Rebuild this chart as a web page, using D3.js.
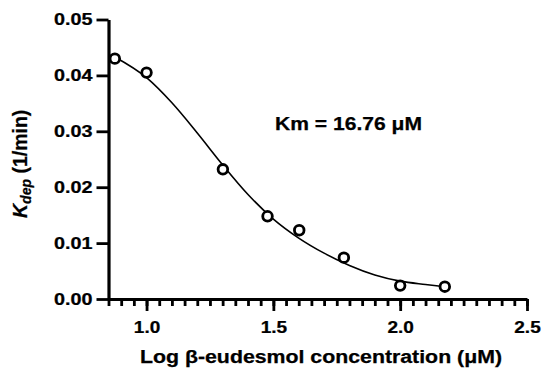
<!DOCTYPE html>
<html>
<head>
<meta charset="utf-8">
<script src="https://cdn.jsdelivr.net/npm/d3@7"></script>
<style>
  body { margin: 0; background: #fff; }
  svg text { font-family: "Liberation Sans", Arial, sans-serif; font-weight: bold; fill: #000; stroke: #000; stroke-width: 0.25px; }
</style>
</head>
<body>
<svg id="chart" width="544" height="370"></svg>
<script>
// measured points (log concentration, Kdep)
var logConc = [0.875, 1.0, 1.301, 1.477, 1.602, 1.778, 2.0, 2.176]
var kdep = [0.0430, 0.0405, 0.0232, 0.0148, 0.0123, 0.0074, 0.0024, 0.0022]

// fitted curve
var fitX = [0.875, 1.0, 1.1, 1.2, 1.3, 1.4, 1.5, 1.6, 1.7, 1.8, 1.9, 2.0, 2.1, 2.176]
var fitY = [0.0433, 0.0396, 0.0351, 0.0297, 0.0240, 0.0187, 0.0143, 0.0109, 0.0082, 0.0060, 0.0043, 0.0032, 0.0026, 0.0022]

var xTicks = [1.0, 1.5, 2.0, 2.5]
var yTicks = [0, 0.01, 0.02, 0.03, 0.04, 0.05]

var svg = d3.select('#chart')
var stretch = 1.2

var x = d3.scaleLinear().domain([0.85, 2.5]).range([108.5, 527])
var y = d3.scaleLinear().domain([0, 0.05]).range([299, 19.5])

// y axis
var gy = svg.append('g')
  .attr('transform', 'translate(108.5,0)')
  .call(d3.axisLeft(y).tickValues(yTicks).tickFormat(d3.format('.2f')).tickSize(12).tickSizeOuter(0))
gy.select('.domain').style('stroke-width', '3.2px').style('stroke', '#000')
gy.selectAll('.tick line').style('stroke-width', '2.8px').style('stroke', '#000')
gy.selectAll('.tick text')
  .attr('x', 0)
  .attr('transform', 'translate(-16,0) scale(' + stretch + ',1)')
  .style('font-size', '16.5px')

// x axis, minor ticks first
var minor = d3.range(0.85, 2.5001, 0.05)
var gxm = svg.append('g')
  .attr('transform', 'translate(0,299)')
  .call(d3.axisBottom(x).tickValues(minor).tickSize(7).tickFormat(''))
gxm.select('.domain').remove()
gxm.selectAll('.tick line').style('stroke-width', '2.8px').style('stroke', '#000')

var gx = svg.append('g')
  .attr('transform', 'translate(0,299)')
  .call(d3.axisBottom(x).tickValues(xTicks).tickFormat(d3.format('.1f')).tickSize(12).tickSizeOuter(0).tickPadding(10))
gx.select('.domain').style('stroke-width', '3.2px').style('stroke', '#000')
gx.selectAll('.tick line').style('stroke-width', '2.8px').style('stroke', '#000')
gx.selectAll('.tick text')
  .attr('transform', 'scale(1.12,1)')
  .style('font-size', '17px')

// fitted curve
var line = d3.line()
  .curve(d3.curveMonotoneX)
  .x(function (d, i) { return x(fitX[i]) })
  .y(function (d) { return y(d) })

svg.append('path')
  .datum(fitY)
  .attr('d', line)
  .attr('fill', 'none')
  .attr('stroke', '#000')
  .attr('stroke-width', 1.6)

// points
svg.append('g').selectAll('circle')
  .data(kdep)
  .enter().append('circle')
  .attr('cx', function (d, i) { return x(logConc[i]) })
  .attr('cy', function (d) { return y(d) })
  .attr('r', 4.8)
  .attr('fill', '#fff')
  .attr('stroke', '#000')
  .attr('stroke-width', 2.8)

// annotation
svg.append('text')
  .attr('x', 275)
  .attr('y', 129.5)
  .attr('textLength', 147)
  .attr('lengthAdjust', 'spacingAndGlyphs')
  .style('font-size', '17.5px')
  .text('Km = 16.76 μM')

// x title
svg.append('text')
  .attr('x', 140)
  .attr('y', 363)
  .attr('textLength', 362)
  .attr('lengthAdjust', 'spacingAndGlyphs')
  .style('font-size', '17.5px')
  .text('Log β-eudesmol concentration (μM)')

// y title
var yt = svg.append('text')
  .attr('transform', 'translate(27,218) rotate(-90)')
  .attr('x', 0)
  .attr('y', 0)
  .style('font-size', '19.5px')
yt.append('tspan').style('font-style', 'italic').text('K')
yt.append('tspan').style('font-style', 'italic').style('font-size', '14px').attr('dy', 4).text('dep')
yt.append('tspan').attr('dy', -4).text(' (1/min)')
</script>
</body>
</html>
